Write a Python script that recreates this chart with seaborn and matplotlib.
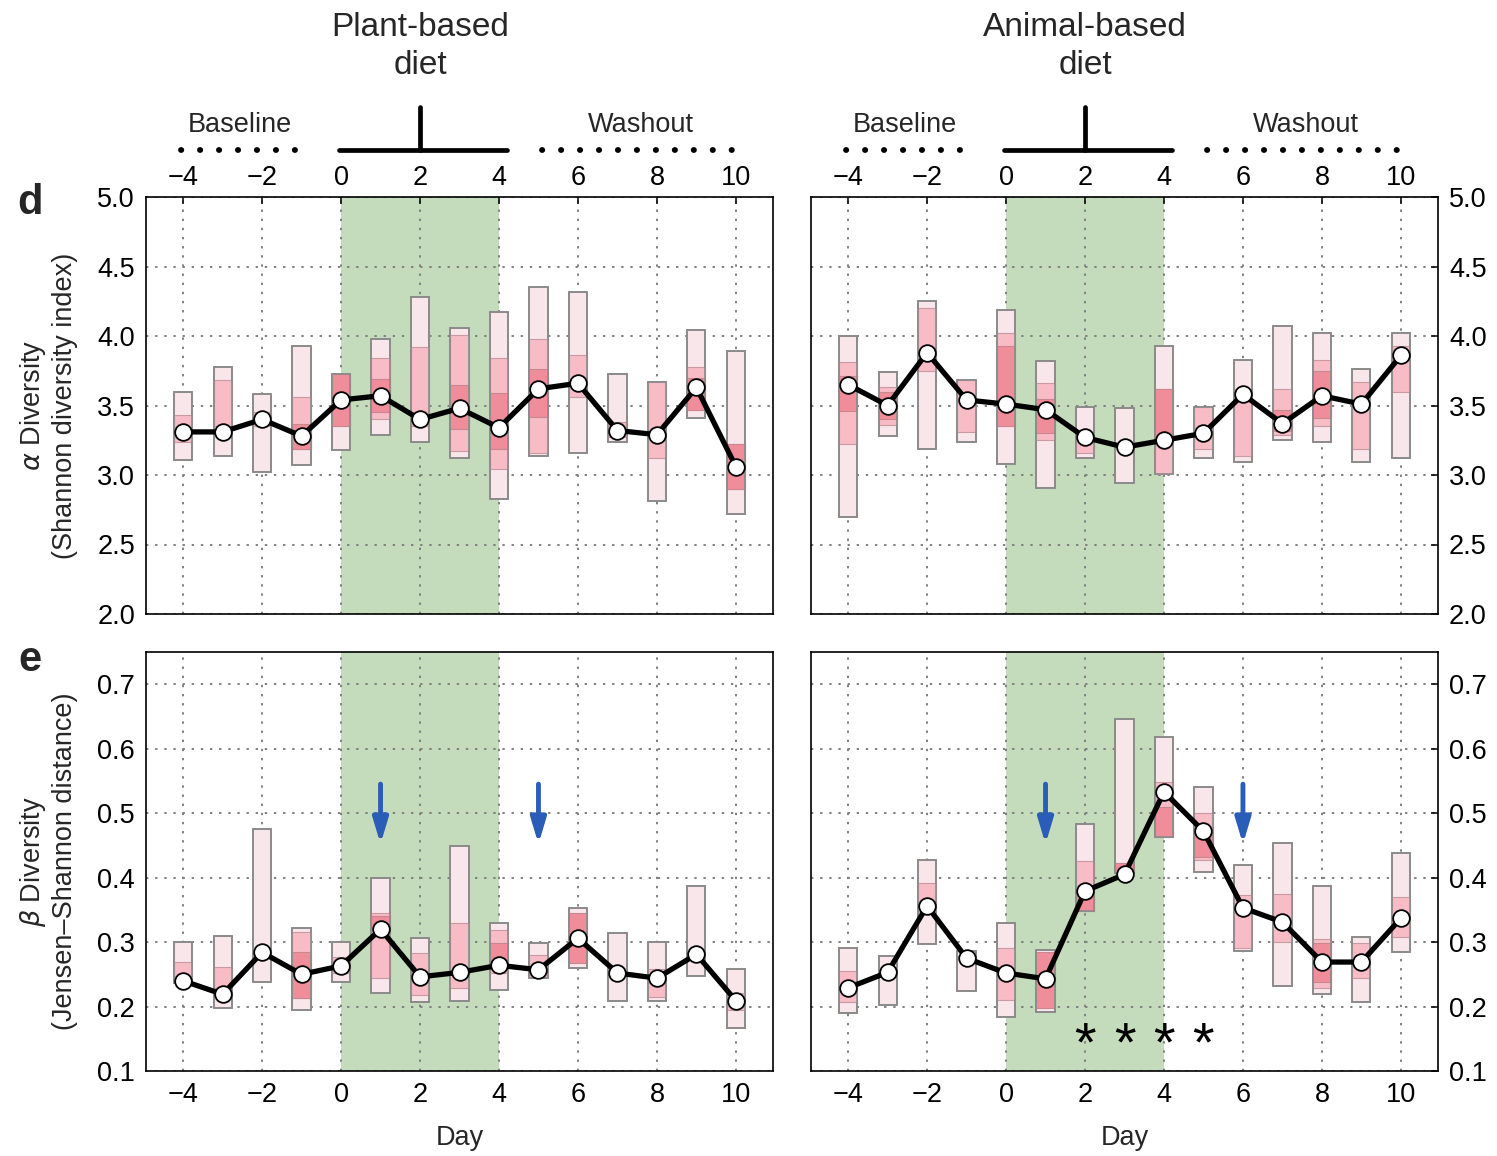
import numpy as np
import pandas as pd
import matplotlib
matplotlib.use("Agg")
import matplotlib.pyplot as plt
import matplotlib.transforms as mtransforms
import seaborn as sns

nan = np.nan
days = list(range(-4, 11))

# ---- Plant-based diet, alpha diversity ----
pa_med = [3.31, 3.31, 3.40, 3.28, 3.54, 3.57, 3.40, 3.48, 3.34, 3.62, 3.66, 3.32, 3.29, 3.63, 3.06]
pa_out_lo = [3.11, 3.14, 3.02, 3.07, 3.18, 3.29, 3.24, 3.12, 2.83, 3.14, 3.16, 3.24, 2.81, 3.41, 2.72]
pa_out_hi = [3.60, 3.78, 3.58, 3.93, 3.73, 3.98, 4.28, 4.06, 4.17, 4.35, 4.32, 3.73, 3.67, 4.04, 3.89]
pa_mid_lo = [3.24, 3.35, 3.35, 3.19, 3.35, 3.40, 3.35, 3.17, 3.04, 3.16, 3.56, 3.27, 3.12, 3.47, 2.90]
pa_mid_hi = [3.43, 3.68, 3.45, 3.56, 3.73, 3.84, 3.92, 4.01, 3.84, 3.98, 3.86, 3.38, 3.67, 3.78, 3.22]
pa_dk_lo = [nan, nan, nan, 3.19, 3.35, 3.45, nan, 3.33, 3.19, 3.42, nan, nan, nan, 3.47, 2.90]
pa_dk_hi = [nan, nan, nan, 3.37, 3.73, 3.69, nan, 3.65, 3.59, 3.76, nan, nan, nan, 3.70, 3.22]

# ---- Animal-based diet, alpha diversity ----
aa_med = [3.65, 3.50, 3.88, 3.54, 3.51, 3.47, 3.27, 3.20, 3.25, 3.30, 3.58, 3.37, 3.57, 3.51, 3.86]
aa_out_lo = [2.70, 3.28, 3.19, 3.24, 3.08, 2.91, 3.12, 2.94, 3.01, 3.12, 3.09, 3.25, 3.24, 3.09, 3.12]
aa_out_hi = [4.00, 3.74, 4.25, 3.68, 4.19, 3.82, 3.49, 3.48, 3.93, 3.49, 3.83, 4.07, 4.02, 3.76, 4.02]
aa_mid_lo = [3.22, 3.36, 3.75, 3.31, 3.35, 3.25, 3.16, nan, 3.01, 3.19, 3.14, 3.29, 3.35, 3.19, 3.60]
aa_mid_hi = [3.81, 3.63, 4.20, 3.68, 4.02, 3.66, 3.27, nan, 3.62, 3.49, 3.62, 3.62, 3.83, 3.67, 3.93]
aa_dk_lo = [3.46, 3.40, nan, nan, 3.35, 3.30, nan, nan, 3.27, nan, nan, 3.32, 3.41, nan, nan]
aa_dk_hi = [3.71, 3.60, nan, nan, 3.93, 3.55, nan, nan, 3.62, nan, nan, 3.47, 3.75, nan, nan]

# ---- Plant-based diet, beta diversity ----
pb_med = [0.240, 0.219, 0.284, 0.250, 0.263, 0.320, 0.246, 0.253, 0.264, 0.257, 0.306, 0.252, 0.244, 0.281, 0.209]
pb_out_lo = [0.236, 0.198, 0.238, 0.195, 0.238, 0.221, 0.207, 0.208, 0.226, 0.244, 0.260, 0.209, 0.209, 0.247, 0.167]
pb_out_hi = [0.300, 0.309, 0.475, 0.322, 0.300, 0.399, 0.306, 0.449, 0.329, 0.299, 0.353, 0.314, 0.300, 0.387, 0.258]
pb_mid_lo = [0.236, 0.229, nan, 0.213, 0.252, 0.244, 0.218, 0.229, 0.252, 0.246, nan, nan, 0.215, nan, 0.195]
pb_mid_hi = [0.269, 0.261, nan, 0.316, 0.277, 0.345, 0.283, 0.329, 0.318, 0.280, nan, nan, 0.258, nan, 0.221]
pb_dk_lo = [nan, nan, nan, 0.213, nan, 0.318, nan, nan, 0.267, nan, 0.267, nan, nan, nan, nan]
pb_dk_hi = [nan, nan, nan, 0.284, nan, 0.340, nan, nan, 0.298, nan, 0.345, nan, nan, nan, nan]

# ---- Animal-based diet, beta diversity ----
ab_med = [0.229, 0.253, 0.356, 0.275, 0.252, 0.243, 0.379, 0.405, 0.533, 0.472, 0.353, 0.331, 0.269, 0.269, 0.337]
ab_out_lo = [0.190, 0.202, 0.297, 0.224, 0.184, 0.191, 0.348, 0.407, 0.463, 0.409, 0.286, 0.232, 0.219, 0.207, 0.285]
ab_out_hi = [0.291, 0.278, 0.427, 0.286, 0.329, 0.288, 0.483, 0.646, 0.618, 0.540, 0.419, 0.453, 0.387, 0.308, 0.438]
ab_mid_lo = [0.207, nan, 0.347, nan, 0.210, nan, 0.348, nan, 0.463, 0.427, 0.291, 0.300, 0.229, 0.244, 0.308]
ab_mid_hi = [0.255, nan, 0.391, nan, 0.291, nan, 0.426, nan, 0.548, 0.500, 0.373, 0.374, 0.305, 0.299, 0.370]
ab_dk_lo = [nan, nan, nan, nan, nan, 0.198, 0.348, 0.407, 0.463, 0.432, nan, nan, 0.238, nan, nan]
ab_dk_hi = [nan, nan, nan, nan, nan, 0.285, 0.380, 0.422, 0.510, 0.477, nan, nan, 0.299, nan, nan]

plant_arrow_days = [1, 5]
animal_arrow_days = [1, 6]
star_days = [2, 3, 4, 5]

x_ticks = [-4, -2, 0, 2, 4, 6, 8, 10]
alpha_ticks = [2.0, 2.5, 3.0, 3.5, 4.0, 4.5, 5.0]
beta_ticks = [0.1, 0.2, 0.3, 0.4, 0.5, 0.6, 0.7]

# ---------------- style ----------------
sns.set_style("white")
plt.rcParams['font.family'] = ['Liberation Sans', 'DejaVu Sans']
plt.rcParams['axes.unicode_minus'] = True

C_OUT = '#f8e6ea'
C_MID = '#f7bcc6'
C_DK = '#ef8e9a'
C_EDGE = '#8a8a8a'
C_GREEN = '#c4dbbc'
TFS = 19.5

fig = plt.figure(figsize=(14.97, 11.56), dpi=100)
W = 627 / 1497
axes = {
    'pa': fig.add_axes([146 / 1497, 1 - 614 / 1156, W, 417 / 1156]),
    'aa': fig.add_axes([811 / 1497, 1 - 614 / 1156, W, 417 / 1156]),
    'pb': fig.add_axes([146 / 1497, 1 - 1071 / 1156, W, 419 / 1156]),
    'ab': fig.add_axes([811 / 1497, 1 - 1071 / 1156, W, 419 / 1156]),
}

panels = {
    'pa': (pa_med, pa_out_lo, pa_out_hi, pa_mid_lo, pa_mid_hi, pa_dk_lo, pa_dk_hi),
    'aa': (aa_med, aa_out_lo, aa_out_hi, aa_mid_lo, aa_mid_hi, aa_dk_lo, aa_dk_hi),
    'pb': (pb_med, pb_out_lo, pb_out_hi, pb_mid_lo, pb_mid_hi, pb_dk_lo, pb_dk_hi),
    'ab': (ab_med, ab_out_lo, ab_out_hi, ab_mid_lo, ab_mid_hi, ab_dk_lo, ab_dk_hi),
}

BW = 0.46
for key, ax in axes.items():
    med, olo, ohi, mlo, mhi, dlo, dhi = panels[key]
    is_alpha = key in ('pa', 'aa')
    ax.set_xlim(-4.94, 10.94)
    if is_alpha:
        ax.set_ylim(2.0, 5.0)
        ax.set_yticks(alpha_ticks)
        ax.set_yticklabels([f'{t:.1f}' for t in alpha_ticks])
    else:
        ax.set_ylim(0.1, 0.75)
        ax.set_yticks(beta_ticks)
        ax.set_yticklabels([f'{t:.1f}' for t in beta_ticks])
    ax.set_xticks(x_ticks)
    ax.set_xticklabels([str(t).replace('-', '\u2212') for t in x_ticks])
    ax.set_axisbelow(True)
    ax.axvspan(0, 4, color=C_GREEN, zorder=0, lw=0)
    ax.grid(True, color='#808080', linestyle=(0, (1.2, 3.5)), linewidth=1.4)

    d = np.array(days, dtype=float)
    olo, ohi = np.array(olo), np.array(ohi)
    mlo, mhi = np.array(mlo), np.array(mhi)
    dlo, dhi = np.array(dlo), np.array(dhi)
    ax.bar(d, ohi - olo, bottom=olo, width=BW, color=C_OUT, edgecolor=C_EDGE, linewidth=1.2, zorder=2)
    m = ~np.isnan(mlo)
    ax.bar(d[m], (mhi - mlo)[m], bottom=mlo[m], width=BW, color=C_MID, edgecolor='#c99aa2', linewidth=0.8, zorder=3)
    m = ~np.isnan(dlo)
    ax.bar(d[m], (dhi - dlo)[m], bottom=dlo[m], width=BW, color=C_DK, edgecolor='#c98790', linewidth=0.8, zorder=4)
    ax.bar(d, ohi - olo, bottom=olo, width=BW, fill=False, edgecolor=C_EDGE, linewidth=1.2, zorder=5)

    df = pd.DataFrame({'day': days, 'value': med})
    sns.lineplot(data=df, x='day', y='value', ax=ax, color='black', linewidth=3.8,
                 marker='o', markersize=12, markerfacecolor='white', markeredgecolor='black',
                 markeredgewidth=1.3, zorder=6)
    ax.set_xlabel('')
    ax.set_ylabel('')

    for sp in ax.spines.values():
        sp.set_linewidth(1.2)
        sp.set_color('black')
    ax.tick_params(direction='in', length=5, width=1.1, labelsize=TFS, colors='black')
    if is_alpha:
        ax.xaxis.tick_top()
        ax.tick_params(axis='x', pad=4)
    else:
        ax.tick_params(axis='x', pad=8)
        ax.set_xlabel('Day', fontsize=TFS, labelpad=12)
    if key in ('aa', 'ab'):
        ax.yaxis.tick_right()
    ax.tick_params(axis='y', pad=8)

axes['pa'].set_ylabel('$\\alpha$ Diversity\n(Shannon diversity index)', fontsize=TFS)
axes['pb'].set_ylabel('$\\beta$ Diversity\n(Jensen\u2013Shannon distance)', fontsize=TFS)
axes['pa'].yaxis.set_label_coords(-0.108, 0.5)
axes['pb'].yaxis.set_label_coords(-0.108, 0.5)

# arrows
for key, arr_days in (('pb', plant_arrow_days), ('ab', animal_arrow_days)):
    ax = axes[key]
    for dd in arr_days:
        ax.annotate('', xy=(dd, 0.452), xytext=(dd, 0.545),
                    arrowprops=dict(arrowstyle='-|>,head_width=0.45,head_length=1.5',
                                    color='#2a5db8', lw=3.5, shrinkA=0, shrinkB=0), zorder=7)

# asterisks
for dd in star_days:
    axes['ab'].text(dd, 0.138, '*', ha='center', va='center', fontsize=40, color='black', zorder=7)

# panel letters
fig.text(30 / 1497, 1 - 203 / 1156, 'd', fontsize=30, fontweight='bold', ha='center', va='center')
fig.text(30 / 1497, 1 - 660 / 1156, 'e', fontsize=30, fontweight='bold', ha='center', va='center')

# diet schedule annotations above top panels
for key, title in (('pa', 'Plant-based\ndiet'), ('aa', 'Animal-based\ndiet')):
    ax = axes[key]
    tr = mtransforms.blended_transform_factory(ax.transData, ax.transAxes)
    for x0, x1 in ((-4.05, -1.0), (5.1, 10.1)):
        ax.plot([x0, x1], [1.113, 1.113], transform=tr, clip_on=False, color='black',
                linestyle=(0, (0.05, 3.2)), linewidth=4.2, dash_capstyle='round')
    ax.plot([-0.05, 4.2], [1.113, 1.113], transform=tr, clip_on=False, color='black', linewidth=3.4)
    ax.plot([2, 2], [1.113, 1.215], transform=tr, clip_on=False, color='black', linewidth=3.4)
    ax.text(-2.55, 1.172, 'Baseline', transform=tr, ha='center', va='center', fontsize=TFS)
    ax.text(7.6, 1.172, 'Washout', transform=tr, ha='center', va='center', fontsize=TFS)
    ax.text(2, 1.36, title, transform=tr, ha='center', va='center', fontsize=24, linespacing=1.3)

fig.savefig('out.png', dpi=100)
